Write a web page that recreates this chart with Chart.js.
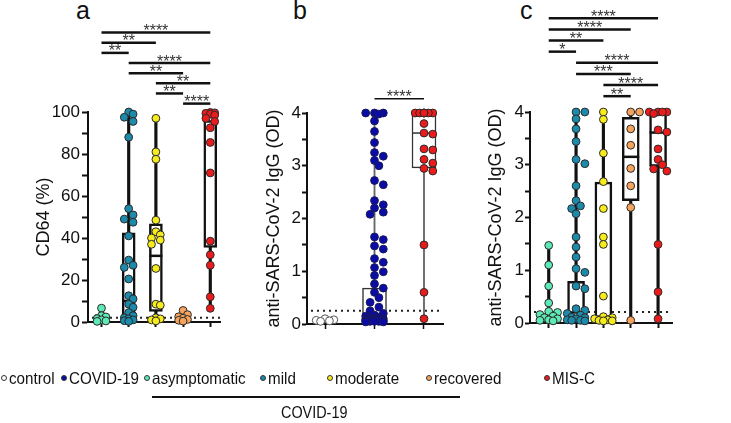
<!DOCTYPE html>
<html>
<head>
<meta charset="utf-8">
<script src="https://cdn.jsdelivr.net/npm/chart.js@4.4.0/dist/chart.umd.min.js"></script>
<style>
  body { margin: 0; background: #fff; width: 731px; height: 423px; overflow: hidden; position: relative;
         font-family: "Liberation Sans", Arial, sans-serif; color: #111; }
  canvas { position: absolute; left: 0; top: 0; }
  .lbl { position: absolute; top: -2px; font-size: 25px; line-height: 25px; }
  .leg { position: absolute; top: 368px; font-size: 16.5px; line-height: 20px; white-space: nowrap;
         transform: scaleX(0.92); transform-origin: 0 0; }
  .dot { position: absolute; top: 375px; width: 6px; height: 6px; border-radius: 50%; border: 1px solid #333; box-sizing: border-box; }
</style>
</head>
<body>
<div class="lbl" style="left:76px">a</div>
<div class="lbl" style="left:293px">b</div>
<div class="lbl" style="left:520px">c</div>
<canvas id="chartA" width="731" height="423"></canvas>
<canvas id="chartB" width="731" height="423"></canvas>
<canvas id="chartC" width="731" height="423"></canvas>
<div id="legend"></div>
<div style="position:absolute;left:152px;top:396px;width:308px;height:1.5px;background:#111"></div>
<div style="position:absolute;left:281px;top:404px;font-size:16px;line-height:18px;transform:scaleX(0.9);transform-origin:0 0;white-space:nowrap">COVID-19</div>
<script>
// ---- DATA ---------------------------------------------------------------
// a: CD64 (%) by COVID-19 severity and MIS-C
const cd64Asym      = [6.6, 3.0, 2.4, 1.6, 1.0, 0.5, 0.3];
const cd64Mild      = [100, 99, 97.5, 95.5, 88, 54, 51, 49, 47.5, 41, 29.5, 27, 26, 20.5, 12.5, 11, 8.5, 7, 4.5, 3, 2, 1.5, 1, 0.6, 0.3];
const cd64Moderate  = [97, 81, 77.5, 48.5, 43, 41.5, 40, 39, 37, 25.5, 8.5, 8, 2, 1.5, 1, 0.5];
const cd64Recovered = [5.5, 3.5, 2.5, 1.8, 1.2, 0.8, 0.4];
const cd64MisC      = [99.8, 99.6, 99.4, 99, 98.5, 97, 95.5, 92.5, 85.5, 71, 38.5, 32, 27, 12, 6.5];
const cd64Q1     = [0.5, 1.0, 5.0, 0.8, 35.5];
const cd64Median = [1.5, 10, 31.5, 1.5, 95.5];
const cd64Q3     = [3.5, 42.5, 46.8, 2.5, 99.3];
const cd64Pairs  = [[1, 5], [1, 3], [1, 2], [2, 5], [2, 4], [3, 5], [3, 4], [4, 5]];
const cd64Stars  = ['****', '**', '**', '****', '**', '**', '**', '****'];
const cd64Cutoff = 2;

// b: anti-SARS-CoV-2 IgG (OD), control / COVID-19 / MIS-C
const igControl = [0.1, 0.08, 0.07, 0.06, 0.05];
const igCovid   = [4.0, 4.0, 4.0, 3.98, 3.85, 3.65, 3.44, 3.25, 3.18, 3.1, 3.0, 2.72, 2.64, 2.34, 2.26, 2.2, 2.12, 2.08,
                   1.65, 1.6, 1.48, 1.42, 1.24, 1.17, 1.07, 0.99, 0.92, 0.76, 0.68, 0.6, 0.5, 0.41, 0.32, 0.25, 0.2,
                   0.17, 0.15, 0.13, 0.12, 0.1, 0.1, 0.09, 0.08, 0.08, 0.07, 0.06, 0.06, 0.05, 0.05, 0.05, 0.04, 0.04];
const igMisC    = [4, 4, 4, 4, 4, 4, 4, 3.8, 3.62, 3.6, 3.32, 3.3, 3.12, 3.05, 2.95, 2.9, 1.5, 0.6, 0.1];
const igQ1     = [0.05, 0.04, 2.96];
const igMedian = [0.06, 0.12, 3.62];
const igQ3     = [0.08, 0.68, 3.98];
const igPairs  = [[2, 3]];
const igStars  = ['****'];
const igCutoff = 0.25;

// c: anti-SARS-CoV-2 IgG (OD) by COVID-19 severity and MIS-C
const sevAsym      = [1.47, 1.1, 0.7, 0.38, 0.22, 0.2, 0.16, 0.13, 0.1, 0.08, 0.06, 0.05, 0.04];
const sevMild      = [4.0, 4.0, 3.87, 3.68, 3.44, 3.1, 3.02, 2.6, 2.32, 2.22, 2.17, 2.07, 1.63, 1.44, 1.25, 1.03, 0.96,
                      0.7, 0.65, 0.27, 0.24, 0.18, 0.15, 0.11, 0.1, 0.08, 0.06, 0.05, 0.05, 0.04];
const sevModerate  = [4.0, 3.86, 3.22, 2.68, 2.17, 1.63, 1.49, 0.51, 0.12, 0.1, 0.08, 0.06, 0.05, 0.04, 0.04];
const sevRecovered = [4.0, 4.0, 3.68, 3.37, 2.93, 2.6, 2.19, 0.05];
const sevMisC      = [4.0, 4.0, 4.0, 4.0, 3.97, 3.66, 3.62, 3.3, 3.1, 3.0, 2.92, 2.88, 1.49, 0.59, 0.08];
const sevQ1     = [0.04, 0.05, 0.05, 2.32, 2.97];
const sevMedian = [0.1, 0.2, 0.12, 3.15, 3.61];
const sevQ3     = [0.18, 0.79, 2.67, 3.9, 4.0];
const sevPairs  = [[1, 5], [1, 4], [1, 3], [1, 2], [2, 5], [2, 4], [3, 5], [3, 4]];
const sevStars  = ['****', '****', '**', '*', '****', '***', '****', '**'];
const sevCutoff = 0.21;

const legendLabels = ['control', 'COVID-19', 'asymptomatic', 'mild', 'moderate', 'recovered', 'MIS-C'];

// ---- STYLE --------------------------------------------------------------
const C = {
  control: '#ffffff', covid: '#0b0ba6', asym: '#5eeab6', mild: '#1b8aab',
  moderate: '#f6ec1c', recovered: '#f5a35d', misc: '#ec1b1b'
};
const legendColors = [C.control, C.covid, C.asym, C.mild, C.moderate, C.recovered, C.misc];
const FONT = '"Liberation Sans", Arial, sans-serif';

// legend (html text)
const legDot = [4, 64, 147, 263, 330, 429, 547];
const legTxt = [9, 69, 152, 268, 335, 434, 552];
const legendEl = document.getElementById('legend');
legendLabels.forEach((l, i) => {
  const d = document.createElement('div');
  d.className = 'dot';
  d.style.left = (legDot[i] - 3) + 'px';
  d.style.background = legendColors[i];
  legendEl.appendChild(d);
  const t = document.createElement('div');
  t.className = 'leg';
  t.style.left = legTxt[i] + 'px';
  t.textContent = l;
  legendEl.appendChild(t);
});

// spreads overlapping points sideways (beeswarm), in pixel space
function swarm(chart, diam) {
  const xs = chart.scales.x, ys = chart.scales.y;
  const unit = xs.getPixelForValue(1) - xs.getPixelForValue(0);
  chart.data.datasets.forEach(ds => {
    if (!ds.values) return;
    const placed = [];
    const pts = ds.values.map(v => ({ x: ds.cat, y: v }));
    const order = ds.values.map((v, i) => i).sort((a, b) => ds.values[b] - ds.values[a]);
    order.forEach(i => {
      const py = ys.getPixelForValue(ds.values[i]);
      let best = 0, bestD = -1;
      search:
      for (let k = 0; k <= 10; k++) {
        for (const s of (k ? [1, -1] : [1])) {
          const dx = s * k * diam * 0.5;
          if (Math.abs(dx) > ds.spread) continue;
          let dmin = Infinity;
          placed.forEach(p => { dmin = Math.min(dmin, Math.hypot(p.x - dx, p.y - py)); });
          if (dmin >= diam * 0.75) { best = dx; break search; }
          if (dmin > bestD) { bestD = dmin; best = dx; }
        }
      }
      placed.push({ x: best, y: py });
      pts[i].x = ds.cat + best / unit;
    });
    ds.data = pts;
  });
  chart.update('none');
}

function makePanel(id, p) {
  const datasets = [];
  p.groups.forEach((vals, i) => {
    const cat = i + 1;
    // whisker min..max
    datasets.push({
      type: 'bar', data: [{ x: cat, y: [Math.min(...vals), Math.max(...vals)] }],
      backgroundColor: p.whiskerColor, borderWidth: 0, grouped: false,
      barPercentage: 1, categoryPercentage: 1, maxBarThickness: p.whiskerW, order: 5
    });
    // box q1..q3
    datasets.push({
      type: 'bar', data: [{ x: cat, y: [p.q1[i], p.q3[i]] }],
      backgroundColor: '#ffffff', borderColor: p.boxColor, borderWidth: p.boxLW, borderSkipped: false,
      grouped: false, barPercentage: 1, categoryPercentage: 1, maxBarThickness: p.boxW, order: 4
    });
    // median
    datasets.push({
      type: 'scatter', data: [{ x: cat, y: p.med[i] }], pointStyle: 'line',
      pointRadius: p.boxW / 2, borderColor: p.boxColor, borderWidth: p.boxLW, clip: false, order: 3
    });
    // individual points
    datasets.push({
      type: 'scatter', data: vals.map(v => ({ x: cat, y: v })), values: vals, cat: cat, spread: p.boxW / 2 + 1,
      backgroundColor: p.colors[i], borderColor: p.pointBorder[i] || '#2a2a2a', borderWidth: 1,
      pointRadius: 3.9, clip: false, order: 2
    });
  });
  p.pairs.forEach((pr, j) => {
    const lvl = p.sigBase + p.sigStep * (p.pairs.length - 1 - j);
    datasets.push({
      type: 'line', data: [{ x: pr[0], y: lvl }, { x: pr[1], y: lvl }], star: p.stars[j],
      borderColor: '#111', borderWidth: p.sigLW, pointRadius: 0, clip: false, order: 1
    });
  });

  const cutoffLine = {
    id: 'cutoff',
    beforeDatasetsDraw(chart) {
      const { ctx, chartArea } = chart;
      const y = chart.scales.y.getPixelForValue(p.cutoff);
      ctx.save();
      ctx.strokeStyle = '#222';
      ctx.lineWidth = 2;
      ctx.setLineDash([2, 4]);
      ctx.beginPath();
      ctx.moveTo(chartArea.left + 4, y);
      ctx.lineTo(chartArea.right, y);
      ctx.stroke();
      ctx.restore();
    }
  };
  const starLabels = {
    id: 'stars',
    afterDatasetsDraw(chart) {
      const { ctx } = chart;
      ctx.save();
      ctx.font = '16px ' + FONT;
      ctx.fillStyle = '#333';
      ctx.textAlign = 'center';
      ctx.textBaseline = 'alphabetic';
      chart.data.datasets.forEach((ds, i) => {
        if (!ds.star) return;
        const pts = chart.getDatasetMeta(i).data;
        ctx.fillText(ds.star, (pts[0].x + pts[1].x) / 2, pts[0].y + 3.5);
      });
      ctx.restore();
    }
  };

  const chart = new Chart(document.getElementById(id), {
    type: 'scatter',
    data: { datasets },
    options: {
      responsive: false,
      animation: false,
      events: [],
      layout: { padding: p.pad },
      plugins: { legend: { display: false }, tooltip: { enabled: false } },
      scales: {
        x: {
          type: 'linear', min: p.xMin, max: p.xMax, offset: false,
          border: { color: '#111', width: 2 },
          grid: { drawOnChartArea: false, offset: false, tickLength: 5, tickWidth: p.tickW, tickColor: '#111' },
          ticks: { display: false },
          afterBuildTicks: s => { s.ticks = p.groups.map((g, i) => ({ value: i + 1 })); },
          afterFit: s => { s.height = 10; }
        },
        y: {
          min: 0, max: p.yMax,
          border: { color: '#111', width: 2 },
          grid: { drawOnChartArea: false, tickLength: p.yTickLen, tickWidth: 2, tickColor: '#111' },
          ticks: {
            stepSize: p.yStep, autoSkip: false, padding: p.yTickPad, color: '#111',
            font: { family: FONT, size: 17 },
            callback: v => (Math.abs(v / p.yLabelEvery - Math.round(v / p.yLabelEvery)) < 1e-6 ? v : '')
          },
          title: { display: true, text: p.title, color: '#111', padding: 0, font: { family: FONT, size: 18 } },
          afterFit: s => { s.width = p.yW; }
        }
      }
    },
    plugins: [cutoffLine, starLabels]
  });
  swarm(chart, 8.8);
  return chart;
}

makePanel('chartA', {
  groups: [cd64Asym, cd64Mild, cd64Moderate, cd64Recovered, cd64MisC],
  colors: [C.asym, C.mild, C.moderate, C.recovered, C.misc], pointBorder: [],
  q1: cd64Q1, med: cd64Median, q3: cd64Q3, pairs: cd64Pairs, stars: cd64Stars, cutoff: cd64Cutoff,
  title: 'CD64 (%)', yMax: 100, yStep: 10, yLabelEvery: 20,
  xMin: 0.504, xMax: 5.357, pad: { left: 33, right: 511, top: 112, bottom: 91 }, yW: 55,
  yTickLen: 6, yTickPad: 2, tickW: 2,
  boxW: 13, boxLW: 2.5, boxColor: '#111', whiskerW: 2.5, whiskerColor: '#111',
  sigBase: 104, sigStep: 4.83, sigLW: 2.5
});

makePanel('chartB', {
  groups: [igControl, igCovid, igMisC],
  colors: [C.control, C.covid, C.misc], pointBorder: ['#555', '#1a1a55', '#2a2a2a'],
  q1: igQ1, med: igMedian, q3: igQ3, pairs: igPairs, stars: igStars, cutoff: igCutoff,
  title: 'anti-SARS-CoV-2 IgG (OD)', yMax: 4, yStep: 0.5, yLabelEvery: 1,
  xMin: 0.636, xMax: 3.384, pad: { left: 263, right: 288, top: 113, bottom: 89 }, yW: 44,
  yTickLen: 5, yTickPad: 1, tickW: 1.5,
  boxW: 24, boxLW: 1.5, boxColor: '#333', whiskerW: 1.2, whiskerColor: '#666',
  sigBase: 4.27, sigStep: 0, sigLW: 1.5
});

makePanel('chartC', {
  groups: [sevAsym, sevMild, sevModerate, sevRecovered, sevMisC],
  colors: [C.asym, C.mild, C.moderate, C.recovered, C.misc], pointBorder: [],
  q1: sevQ1, med: sevMedian, q3: sevQ3, pairs: sevPairs, stars: sevStars, cutoff: sevCutoff,
  title: 'anti-SARS-CoV-2 IgG (OD)', yMax: 4, yStep: 0.5, yLabelEvery: 1,
  xMin: 0.315, xMax: 5.51, pad: { left: 485, right: 59, top: 112, bottom: 90 }, yW: 45,
  yTickLen: 5, yTickPad: 1, tickW: 2,
  boxW: 17, boxLW: 2.5, boxColor: '#111', whiskerW: 2.5, whiskerColor: '#111',
  sigBase: 4.30, sigStep: 0.211, sigLW: 2.5
});
</script>
</body>
</html>
